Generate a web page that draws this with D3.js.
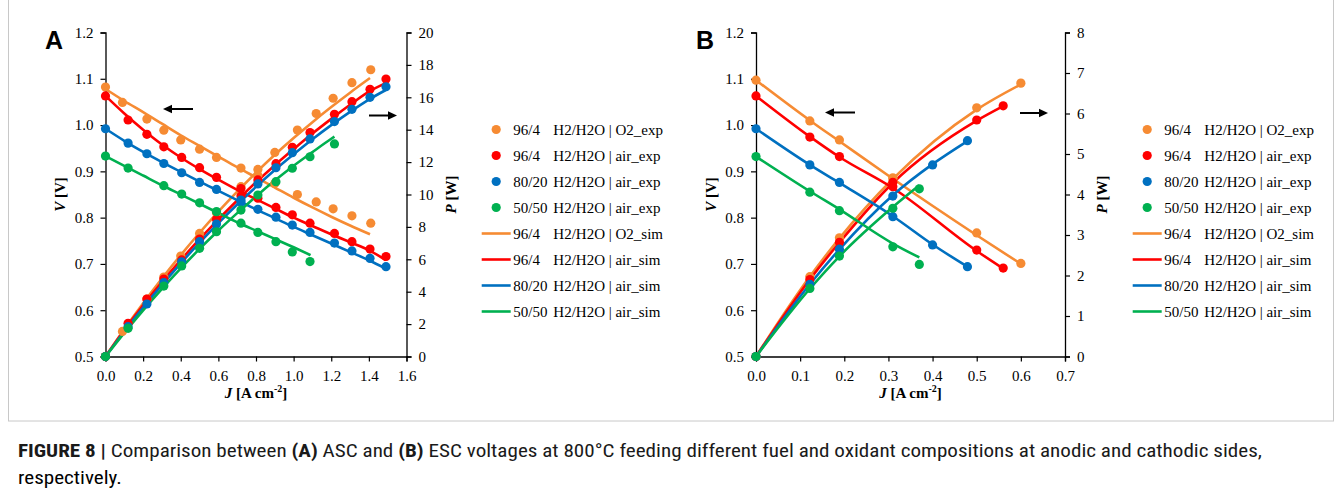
<!DOCTYPE html>
<html><head><meta charset="utf-8">
<script src="https://cdn.jsdelivr.net/npm/d3@7"></script>
<style>
body{margin:0;background:#fff}
svg text{font-family:"Liberation Serif","Tinos","Times New Roman",serif;fill:#000}
</style>
</head><body><svg id="c" width="1342" height="492"></svg>
<script>
// ---------------- DATA ----------------
const seriesPrefix = ["96/4", "96/4", "80/20", "50/50"];
const expSuffix = ["H2/H2O | O2_exp", "H2/H2O | air_exp", "H2/H2O | air_exp", "H2/H2O | air_exp"];
const simSuffix = ["H2/H2O | O2_sim", "H2/H2O | air_sim", "H2/H2O | air_sim", "H2/H2O | air_sim"];
const seriesColors = ["#F68B33", "#FF0000", "#0070C0", "#00B050"];

// Panel A (ASC) experimental
const aJ_o2 = [0, 0.09, 0.22, 0.31, 0.40, 0.50, 0.59, 0.72, 0.81, 0.90, 1.02, 1.12, 1.21, 1.31, 1.41];
const aV_o2 = [1.082, 1.049, 1.013, 0.989, 0.968, 0.948, 0.930, 0.907, 0.891, 0.874, 0.850, 0.834, 0.819, 0.804, 0.788];
const aP_o2 = [0, 1.55, 3.55, 4.90, 6.20, 7.60, 8.88, 10.48, 11.55, 12.60, 13.98, 15.00, 15.94, 16.90, 17.70];
const aJ_air96 = [0, 0.12, 0.22, 0.31, 0.405, 0.50, 0.59, 0.72, 0.81, 0.906, 0.993, 1.087, 1.217, 1.31, 1.406, 1.491];
const aV_air96 = [1.063, 1.011, 0.980, 0.953, 0.930, 0.908, 0.887, 0.863, 0.842, 0.822, 0.806, 0.788, 0.766, 0.748, 0.732, 0.716];
const aP_air96 = [0, 2.05, 3.55, 4.78, 5.96, 7.25, 8.47, 9.90, 10.90, 11.90, 12.91, 13.82, 14.95, 15.73, 16.49, 17.13];
const aJ_air80 = [0, 0.12, 0.22, 0.31, 0.405, 0.50, 0.59, 0.72, 0.81, 0.906, 0.993, 1.087, 1.217, 1.31, 1.406, 1.491];
const aV_air80 = [0.992, 0.961, 0.938, 0.917, 0.897, 0.876, 0.861, 0.834, 0.818, 0.801, 0.784, 0.768, 0.745, 0.728, 0.712, 0.694];
const aP_air80 = [0, 1.84, 3.24, 4.56, 5.85, 7.09, 8.18, 9.66, 10.65, 11.65, 12.58, 13.43, 14.50, 15.26, 16.00, 16.65];
const aJ_air50 = [0, 0.12, 0.31, 0.405, 0.50, 0.59, 0.72, 0.81, 0.906, 0.993, 1.087, 1.217];
const aV_air50 = [0.933, 0.907, 0.869, 0.851, 0.832, 0.813, 0.788, 0.768, 0.748, 0.726, 0.705, null];
const aP_air50 = [0, 1.74, 4.35, 5.59, 6.68, 7.70, 9.04, 9.97, 10.79, 11.62, 12.33, 13.12];

// Panel A simulated
const aSimJ_o2 = [0, 0.1, 0.2, 0.3, 0.4, 0.5, 0.6, 0.7, 0.8, 0.9, 1.0, 1.1, 1.2, 1.3, 1.406];
const aSimV_o2 = [1.078, 1.052, 1.028, 1.003, 0.978, 0.955, 0.932, 0.909, 0.887, 0.865, 0.843, 0.822, 0.802, 0.783, 0.764];
const aSimP_o2 = [0, 1.683, 3.290, 4.814, 6.259, 7.640, 8.947, 10.181, 11.354, 12.456, 13.488, 14.467, 15.398, 16.286, 17.187];
const aSimJ_air96 = [0, 0.1, 0.2, 0.3, 0.4, 0.5, 0.6, 0.7, 0.8, 0.9, 1.0, 1.1, 1.2, 1.3, 1.4, 1.49];
const aSimV_air96 = [1.063, 1.025, 0.990, 0.958, 0.930, 0.905, 0.882, 0.860, 0.840, 0.820, 0.800, 0.782, 0.764, 0.747, 0.730, 0.708];
const aSimP_air96 = [0, 1.640, 3.168, 4.598, 5.952, 7.240, 8.467, 9.632, 10.752, 11.808, 12.800, 13.763, 14.669, 15.536, 16.352, 16.879];
const aSimJ_air80 = [0, 0.1, 0.2, 0.3, 0.4, 0.5, 0.6, 0.7, 0.8, 0.9, 1.0, 1.1, 1.2, 1.3, 1.4, 1.49];
const aSimV_air80 = [0.992, 0.966, 0.942, 0.920, 0.899, 0.878, 0.858, 0.838, 0.818, 0.799, 0.780, 0.762, 0.744, 0.726, 0.708, 0.690];
const aSimP_air80 = [0, 1.546, 3.014, 4.416, 5.754, 7.024, 8.237, 9.386, 10.470, 11.507, 12.480, 13.411, 14.285, 15.101, 15.859, 16.450];
const aSimJV_air50 = [0, 0.1, 0.2, 0.3, 0.4, 0.5, 0.6, 0.7, 0.8, 0.9, 1.0, 1.09];
const aSimV_air50 = [0.933, 0.912, 0.891, 0.870, 0.850, 0.830, 0.810, 0.790, 0.772, 0.754, 0.736, 0.719];
const aSimJP_air50 = [0, 0.1, 0.2, 0.3, 0.4, 0.5, 0.6, 0.7, 0.8, 0.9, 1.0, 1.1, 1.2, 1.217];
const aSimP_air50 = [0, 1.459, 2.851, 4.176, 5.440, 6.640, 7.776, 8.848, 9.882, 10.858, 11.776, 12.619, 13.440, 13.572];

// Panel B (ESC) experimental
const bJ_o2 = [0, 0.122, 0.189, 0.31, 0.50, 0.60];
const bV_o2 = [1.097, 1.009, 0.968, 0.886, 0.767, 0.701];
const bP_o2 = [0, 1.97, 2.93, 4.39, 6.14, 6.75];
const bJ_air96 = [0, 0.122, 0.189, 0.31, 0.50, 0.56];
const bV_air96 = [1.063, 0.974, 0.932, 0.867, 0.730, 0.691];
const bP_air96 = [0, 1.90, 2.82, 4.30, 5.84, 6.19];
const bJ_air80 = [0, 0.122, 0.189, 0.31, 0.40, 0.479];
const bV_air80 = [0.992, 0.914, 0.876, 0.802, 0.741, 0.694];
const bP_air80 = [0, 1.78, 2.65, 3.96, 4.73, 5.33];
const bJ_air50 = [0, 0.122, 0.189, 0.31, 0.37];
const bV_air50 = [0.932, 0.855, 0.815, 0.737, 0.699];
const bP_air50 = [0, 1.68, 2.48, 3.66, 4.14];

// Panel B simulated
const bSimV_o2 = [1.097, 1.010, 0.965, 0.884, 0.762, 0.700];
const bSimP_o2 = [0, 1.972, 2.918, 4.385, 6.096, 6.720];
const bSimV_air96 = [1.063, 0.975, 0.931, 0.864, 0.728, 0.690];
const bSimP_air96 = [0, 1.903, 2.815, 4.285, 5.824, 6.182];
const bSimV_air80 = [0.992, 0.914, 0.875, 0.803, 0.742, 0.694];
const bSimP_air80 = [0, 1.784, 2.646, 3.983, 4.749, 5.319];
const bSimV_air50 = [0.932, 0.857, 0.818, 0.744, 0.714];
const bSimP_air50 = [0, 1.673, 2.474, 3.690, 4.227];

// Axis ticks
const vTicks = [0.5, 0.6, 0.7, 0.8, 0.9, 1.0, 1.1, 1.2];
const aJTicks = [0, 0.2, 0.4, 0.6, 0.8, 1.0, 1.2, 1.4, 1.6];
const aPTicks = [0, 2, 4, 6, 8, 10, 12, 14, 16, 18, 20];
const bJTicks = [0, 0.1, 0.2, 0.3, 0.4, 0.5, 0.6, 0.7];
const bPTicks = [0, 1, 2, 3, 4, 5, 6, 7, 8];

const captionLine1 = ["FIGURE 8 | ", "Comparison between ", "(A)", " ASC and ", "(B)", " ESC voltages at 800°C feeding different fuel and oxidant compositions at anodic and cathodic sides,"];
const captionLine2 = "respectively.";

// ---------------- DRAW ----------------
const SERIF = '"Liberation Serif","Tinos","Times New Roman",serif';
const svg = d3.select("#c");
const zip = (js, vs) => js.map((j, i) => [j, vs[i]]).filter(d => d[1] !== null && d[1] !== undefined);

svg.append("rect").attr("x", 8.5).attr("y", -2).attr("width", 1325).attr("height", 423)
  .attr("fill", "none").attr("stroke", "#c8c8c8").attr("stroke-width", 1);

const panels = [
  {
    label: "A", labelX: 45, x0: 105.5, x1: 406.5, jMax: 1.6, jTicks: aJTicks, pMax: 20, pTicks: aPTicks,
    vTitleX: 65, pTitleX: 456, legX: 481.7,
    arrows: [[193, 163, 109], [369, 397, 115.5]],
    series: [
      {exp: [aJ_o2, aV_o2, aP_o2], simV: [aSimJ_o2, aSimV_o2], simP: [aSimJ_o2, aSimP_o2]},
      {exp: [aJ_air96, aV_air96, aP_air96], simV: [aSimJ_air96, aSimV_air96], simP: [aSimJ_air96, aSimP_air96]},
      {exp: [aJ_air80, aV_air80, aP_air80], simV: [aSimJ_air80, aSimV_air80], simP: [aSimJ_air80, aSimP_air80]},
      {exp: [aJ_air50, aV_air50, aP_air50], simV: [aSimJV_air50, aSimV_air50], simP: [aSimJP_air50, aSimP_air50]}
    ]
  },
  {
    label: "B", labelX: 696, x0: 756, x1: 1065, jMax: 0.7, jTicks: bJTicks, pMax: 8, pTicks: bPTicks,
    vTitleX: 716, pTitleX: 1107, legX: 1132.7,
    arrows: [[855, 825, 112.5], [1020, 1048, 113]],
    series: [
      {exp: [bJ_o2, bV_o2, bP_o2], simV: [bJ_o2, bSimV_o2], simP: [bJ_o2, bSimP_o2]},
      {exp: [bJ_air96, bV_air96, bP_air96], simV: [bJ_air96, bSimV_air96], simP: [bJ_air96, bSimP_air96]},
      {exp: [bJ_air80, bV_air80, bP_air80], simV: [bJ_air80, bSimV_air80], simP: [bJ_air80, bSimP_air80]},
      {exp: [bJ_air50, bV_air50, bP_air50], simV: [bJ_air50, bSimV_air50], simP: [bJ_air50, bSimP_air50]}
    ]
  }
];

const yTop = 32.5, yBot = 356.5;

panels.forEach(p => {
  const g = svg.append("g");
  const x = d3.scaleLinear().domain([0, p.jMax]).range([p.x0, p.x1]);
  const yV = d3.scaleLinear().domain([0.5, 1.2]).range([yBot, yTop]);
  const yP = d3.scaleLinear().domain([0, p.pMax]).range([yBot, yTop]);

  const styleAxis = a => {
    a.attr("font-family", SERIF).attr("font-size", 15);
    a.selectAll("path.domain").attr("stroke", "#000").attr("stroke-width", 1.3);
    a.selectAll(".tick line").attr("stroke", "#000").attr("stroke-width", 1.2);
    a.selectAll("text").style("font-family", SERIF).style("font-size", "15px").attr("fill", "#000");
  };
  const ax = g.append("g").attr("transform", `translate(0,${yBot})`)
    .call(d3.axisBottom(x).tickValues(p.jTicks).tickFormat(d3.format(".1f")).tickSizeOuter(0).tickSize(5).tickPadding(9));
  styleAxis(ax);
  const al = g.append("g").attr("transform", `translate(${p.x0},0)`)
    .call(d3.axisLeft(yV).tickValues(vTicks).tickFormat(d3.format(".1f")).tickSizeOuter(0).tickSize(5).tickPadding(7));
  styleAxis(al);
  const ar = g.append("g").attr("transform", `translate(${p.x1},0)`)
    .call(d3.axisRight(yP).tickValues(p.pTicks).tickFormat(d3.format("d")).tickSizeOuter(0).tickSize(5).tickPadding(7));
  styleAxis(ar);

  // axis titles
  const vt = g.append("text").attr("transform", `translate(${p.vTitleX},${(yTop + yBot) / 2}) rotate(-90)`)
    .attr("text-anchor", "middle").style("font-family", SERIF).style("font-size", "15px").style("font-weight", "bold");
  vt.append("tspan").style("font-style", "italic").text("V");
  vt.append("tspan").text(" [V]");
  const pt = g.append("text").attr("transform", `translate(${p.pTitleX},${(yTop + yBot) / 2}) rotate(-90)`)
    .attr("text-anchor", "middle").style("font-family", SERIF).style("font-size", "15px").style("font-weight", "bold");
  pt.append("tspan").style("font-style", "italic").text("P");
  pt.append("tspan").text(" [W]");
  const jt = g.append("text").attr("x", (p.x0 + p.x1) / 2).attr("y", 398)
    .attr("text-anchor", "middle").style("font-family", SERIF).style("font-size", "15px").style("font-weight", "bold");
  jt.append("tspan").style("font-style", "italic").text("J");
  jt.append("tspan").text(" [A cm");
  jt.append("tspan").attr("dy", -6).style("font-size", "10px").text("-2");
  jt.append("tspan").attr("dy", 6).text("]");

  // panel label
  g.append("text").attr("x", p.labelX).attr("y", 48.5).text(p.label)
    .style("font-family", '"Liberation Sans",Arial,sans-serif').style("font-weight", "bold").style("font-size", "25px");

  // sim lines
  const lineV = d3.line().x(d => x(d[0])).y(d => yV(d[1])).curve(d3.curveMonotoneX);
  const lineP = d3.line().x(d => x(d[0])).y(d => yP(d[1])).curve(d3.curveMonotoneX);
  p.series.forEach((s, i) => {
    g.append("path").datum(zip(s.simV[0], s.simV[1])).attr("d", lineV)
      .attr("fill", "none").attr("stroke", seriesColors[i]).attr("stroke-width", 2.6);
    g.append("path").datum(zip(s.simP[0], s.simP[1])).attr("d", lineP)
      .attr("fill", "none").attr("stroke", seriesColors[i]).attr("stroke-width", 2.6);
  });
  // exp points
  p.series.forEach((s, i) => {
    g.append("g").selectAll("circle").data(zip(s.exp[0], s.exp[1])).join("circle")
      .attr("cx", d => x(d[0])).attr("cy", d => yV(d[1])).attr("r", 4.6).attr("fill", seriesColors[i]);
    g.append("g").selectAll("circle").data(zip(s.exp[0], s.exp[2])).join("circle")
      .attr("cx", d => x(d[0])).attr("cy", d => yP(d[1])).attr("r", 4.6).attr("fill", seriesColors[i]);
  });

  // arrows
  p.arrows.forEach(([from, to, y]) => {
    const dir = Math.sign(to - from);
    g.append("line").attr("x1", from).attr("x2", to - dir * 7).attr("y1", y).attr("y2", y)
      .attr("stroke", "#000").attr("stroke-width", 2);
    g.append("path").attr("d", `M${to},${y} L${to - dir * 9},${y - 4.2} L${to - dir * 9},${y + 4.2} Z`).attr("fill", "#000");
  });

  // legend
  const rowY = i => 129.5 + i * 26;
  const lg = g.append("g").style("font-family", SERIF);
  for (let i = 0; i < 4; i++) {
    lg.append("circle").attr("cx", p.legX + 14.5).attr("cy", rowY(i)).attr("r", 4.6).attr("fill", seriesColors[i]);
    lg.append("text").attr("x", p.legX + 31.6).attr("y", rowY(i) + 5).style("font-family", SERIF).style("font-size", "15px").text(seriesPrefix[i]);
    lg.append("text").attr("x", p.legX + 71.6).attr("y", rowY(i) + 5).style("font-family", SERIF).style("font-size", "15px").text(expSuffix[i]);
  }
  for (let i = 0; i < 4; i++) {
    const yy = rowY(i + 4);
    lg.append("line").attr("x1", p.legX).attr("x2", p.legX + 29).attr("y1", yy).attr("y2", yy)
      .attr("stroke", seriesColors[i]).attr("stroke-width", 2.6);
    lg.append("text").attr("x", p.legX + 31.6).attr("y", yy + 5).style("font-family", SERIF).style("font-size", "15px").text(seriesPrefix[i]);
    lg.append("text").attr("x", p.legX + 71.6).attr("y", yy + 5).style("font-family", SERIF).style("font-size", "15px").text(simSuffix[i]);
  }
});

// caption
const capFont = '"Roboto Condensed","Liberation Sans",Arial,sans-serif';
const c1 = svg.append("text").attr("y", 0).style("font-family", capFont).style("font-size", "18px");
captionLine1.forEach((t, i) => {
  c1.append("tspan").text(t).style("font-family", capFont).style("font-weight", (i === 0 || i === 2 || i === 4) ? "bold" : "normal").attr("fill", "#1a1a1a");
});
const w1 = c1.node().getComputedTextLength();
const k = 1245 / w1;
c1.attr("transform", `translate(18,457) scale(${k},1)`);
const c2 = svg.append("text").attr("y", 0).style("font-family", capFont).style("font-size", "18px").attr("fill", "#1a1a1a").text(captionLine2);
c2.attr("transform", `translate(18,484) scale(${k},1)`);
</script></body></html>
